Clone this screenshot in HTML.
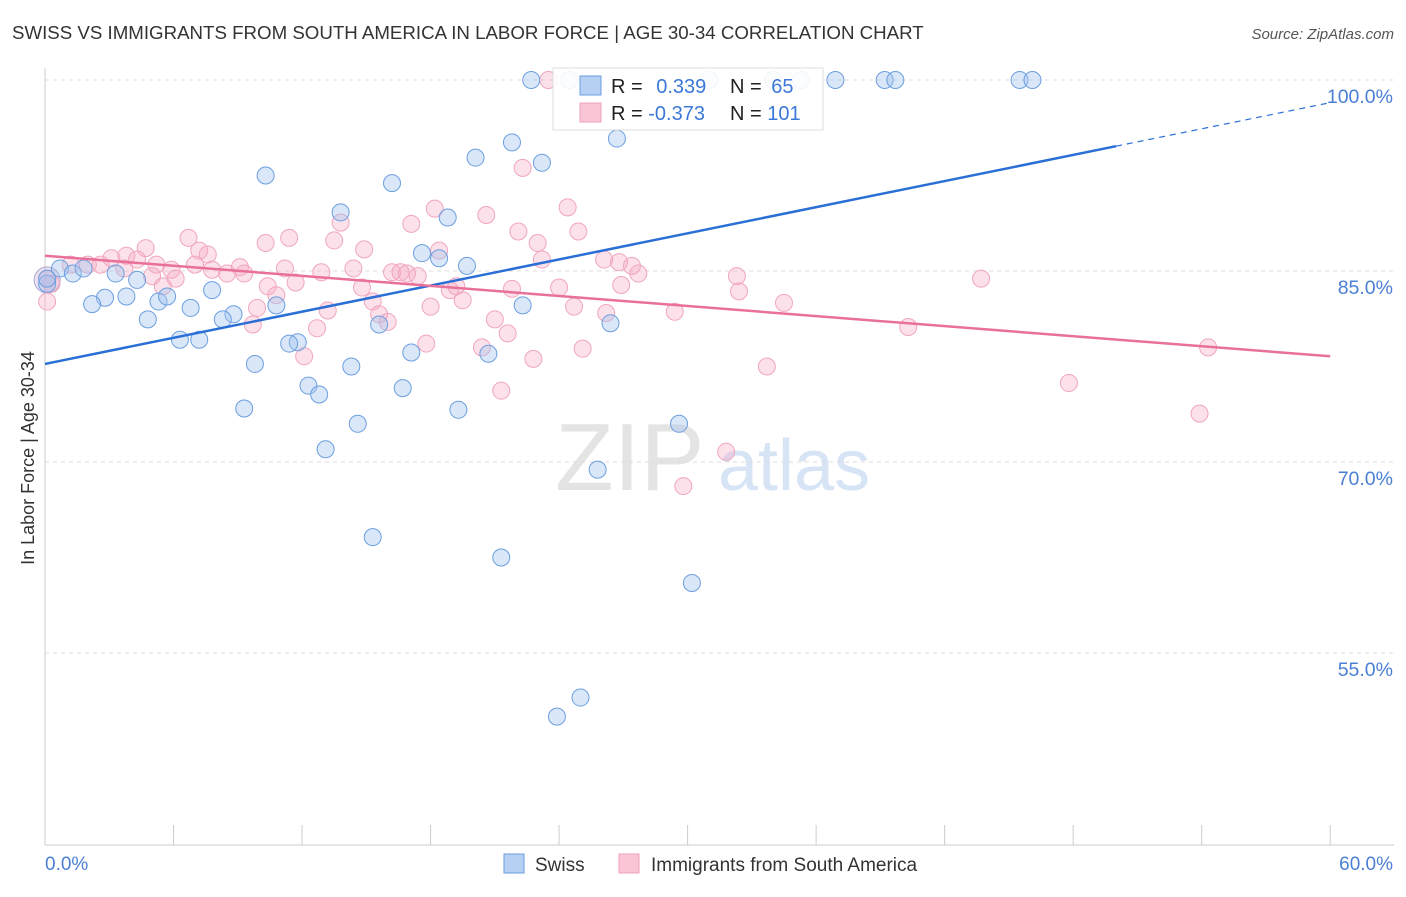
<!DOCTYPE html>
<html><head><meta charset="utf-8"><style>
body{margin:0;background:#fff;font-family:"Liberation Sans",sans-serif}
svg text{font-family:"Liberation Sans",sans-serif}
</style></head><body>
<svg id="c" width="1406" height="892" xmlns="http://www.w3.org/2000/svg">
<text x="12" y="39" font-size="18.7" fill="#333">SWISS VS IMMIGRANTS FROM SOUTH AMERICA IN LABOR FORCE | AGE 30-34 CORRELATION CHART</text>
<text x="1394" y="39" font-size="15" fill="#555" font-style="italic" text-anchor="end">Source: ZipAtlas.com</text>
<text x="34" y="458" font-size="18" fill="#333" transform="rotate(-90 34 458)" text-anchor="middle">In Labor Force | Age 30-34</text>
<text x="555" y="490" font-size="96" fill="#e4e4e4" font-family="Liberation Serif">ZIP</text>
<text x="718" y="490" font-size="72" fill="#d6e4f5">atlas</text>
<g id="grid"></g><g id="pts"></g><g id="lines"></g>
<g>
<rect x="553" y="68" width="270" height="62" fill="#fff" fill-opacity="0.9" stroke="#ddd"/>
<rect x="580" y="76" width="21" height="19" fill="#b5d0f3" stroke="#6a9ee0"/>
<rect x="580" y="103" width="21" height="19" fill="#fac6d6" stroke="#eea0b8"/>
<text x="611" y="93" font-size="20" fill="#222">R = <tspan fill="#3b78d8" dx="8">0.339</tspan></text>
<text x="730" y="93" font-size="20" fill="#222">N = <tspan fill="#3b78d8" dx="4">65</tspan></text>
<text x="611" y="120" font-size="20" fill="#222">R = <tspan fill="#3b78d8">-0.373</tspan></text>
<text x="730" y="120" font-size="20" fill="#222">N = <tspan fill="#3b78d8">101</tspan></text>
</g>
<g>
<rect x="504" y="854" width="20" height="19" fill="#b5d0f3" stroke="#6a9ee0"/>
<text x="535" y="871" font-size="19" fill="#333">Swiss</text>
<rect x="619" y="854" width="20" height="19" fill="#fac6d6" stroke="#eea0b8"/>
<text x="651" y="871" font-size="19" fill="#333">Immigrants from South America</text>
</g>
</svg>
<script>
const yTicks=[100,85,70,55];
const yTickLabels=["100.0%","85.0%","70.0%","55.0%"];
const xTicks=[0,6,12,18,24,30,36,42,48,54,60];
const swissX=[22.7,24.5,31.0,34.0,35.3,36.9,39.2,39.7,45.5,46.1,21.8,20.1,23.2,26.7,10.3,16.2,13.8,18.8,17.6,18.4,19.7,0.7,1.3,1.8,3.3,4.3,0.1,2.8,3.8,2.2,5.3,5.7,7.8,6.8,4.8,8.8,8.3,10.8,6.3,7.2,15.6,11.8,11.4,22.3,26.4,17.1,20.7,9.8,14.3,12.3,12.8,16.7,9.3,19.3,14.6,29.6,13.1,25.8,15.3,21.3,30.2,25.0,23.9,0.1];
const swissY=[100,100,100,100,100,100,100,100,100,100,95.1,93.9,93.5,95.4,92.5,91.9,89.6,89.2,86.4,86.0,85.4,85.2,84.8,85.2,84.8,84.3,84.0,82.9,83.0,82.4,82.6,83.0,83.5,82.1,81.2,81.6,81.2,82.3,79.6,79.6,80.8,79.4,79.3,82.3,80.9,78.6,78.5,77.7,77.5,76.0,75.3,75.8,74.2,74.1,73.0,73.0,71.0,69.4,64.1,62.5,60.5,51.5,50.0,84.4];
const immX=[23.5,22.3,24.4,18.2,20.6,17.1,13.8,24.9,22.1,6.7,11.4,13.5,10.3,23.0,4.7,7.2,14.9,18.4,7.6,23.2,26.1,26.8,27.4,27.7,3.8,4.3,3.1,2.6,5.2,5.9,7.0,7.8,8.5,9.1,9.3,11.2,12.9,14.4,16.2,16.6,17.4,16.9,5.0,6.1,5.5,10.4,11.7,14.8,15.3,18.9,19.2,21.8,24.0,26.9,32.3,32.4,43.7,10.8,19.5,24.7,26.2,29.4,34.5,9.9,13.2,15.6,16.0,18.0,21.0,9.7,12.7,21.6,40.3,17.8,20.4,25.1,12.1,22.8,33.7,54.3,47.8,21.3,53.9,31.8,29.8,0.1,0.3,1.2,2.0,3.7,0.1];
const immY=[100,93.1,90.0,89.9,89.4,88.7,88.8,88.1,88.1,87.6,87.6,87.4,87.2,87.2,86.8,86.6,86.7,86.6,86.3,85.9,85.9,85.7,85.4,84.8,86.2,85.9,86.0,85.5,85.5,85.1,85.5,85.1,84.8,85.3,84.8,85.2,84.9,85.2,84.9,84.9,84.6,84.8,84.6,84.4,83.8,83.8,84.1,83.7,82.6,83.5,83.8,83.6,83.7,83.9,84.6,83.4,84.4,83.1,82.7,82.2,81.7,81.8,82.5,82.1,81.9,81.6,81.0,82.2,81.2,80.8,80.5,80.1,80.6,79.3,79.0,78.9,78.3,78.1,77.5,79.0,76.2,75.6,73.8,70.8,68.1,82.6,84.0,85.5,85.5,85.2,84.4];
const swissTrend=[77.7,94.8];
const immTrend=[86.2,78.3];
const NS="http://www.w3.org/2000/svg";
const X=v=>45+v*21.42, Y=v=>80+(100-v)*12.733;
function mk(tag,attrs,parent){const e=document.createElementNS(NS,tag);for(const k in attrs)e.setAttribute(k,attrs[k]);parent.appendChild(e);return e;}
const grid=document.getElementById('grid'),pts=document.getElementById('pts'),lines=document.getElementById('lines');
yTicks.forEach((t,i)=>{
 const l=mk('line',{x1:45,x2:1394,y1:Y(t),y2:Y(t),stroke:'#ddd','stroke-dasharray':'4,4'},grid);
 
 
 const tx=mk('text',{x:1393,y:Y(t)+23,'font-size':19.5,fill:'#4a7fd4','text-anchor':'end'},grid);
 tx.textContent=yTickLabels[i];
 
 
});
const ax=mk('line',{x1:45,x2:45,y1:68,y2:845,stroke:'#ccc'},grid);


const bx=mk('line',{x1:45,x2:1394,y1:845,y2:845,stroke:'#ccc'},grid);


xTicks.forEach(t=>{
 const l=mk('line',{x1:X(t),x2:X(t),y1:825,y2:845,stroke:'#ccc'},grid);
 
 
});
[[0,'0.0%','start',45],[60,'60.0%','end',1393]].forEach(a=>{
 const tx=mk('text',{x:a[3],y:870,'font-size':19,fill:'#4a7fd4','text-anchor':a[2]},grid);
 tx.textContent=a[1];
 
 
});
const big=mk('circle',{cx:X(0.1),cy:Y(84.3),r:13,fill:'rgba(200,170,210,0.35)',stroke:'#a9a8d8'},pts);


immX.forEach((x,i)=>{
 const c=mk('circle',{cx:X(x),cy:Y(immY[i]),r:8.5,fill:'rgba(245,170,196,0.35)',stroke:'#f0a6bf','stroke-width':1},pts);
 
 
});
swissX.forEach((x,i)=>{
 const c=mk('circle',{cx:X(x),cy:Y(swissY[i]),r:8.5,fill:'rgba(160,196,240,0.4)',stroke:'#6c9fe0','stroke-width':1},pts);
 
 
});
const sl=(swissTrend[1]-swissTrend[0])/50;
const l1=mk('line',{x1:X(0),y1:Y(swissTrend[0]),x2:X(50),y2:Y(swissTrend[1]),stroke:'#2a6fd6','stroke-width':2.5},lines);


const l2=mk('line',{x1:X(50),y1:Y(swissTrend[1]),x2:X(60),y2:Y(swissTrend[0]+sl*60),stroke:'#2a6fd6','stroke-width':1.2,'stroke-dasharray':'6,5'},lines);


const l3=mk('line',{x1:X(0),y1:Y(immTrend[0]),x2:X(60),y2:Y(immTrend[1]),stroke:'#e8709a','stroke-width':2.5},lines);


</script>
</body></html>
